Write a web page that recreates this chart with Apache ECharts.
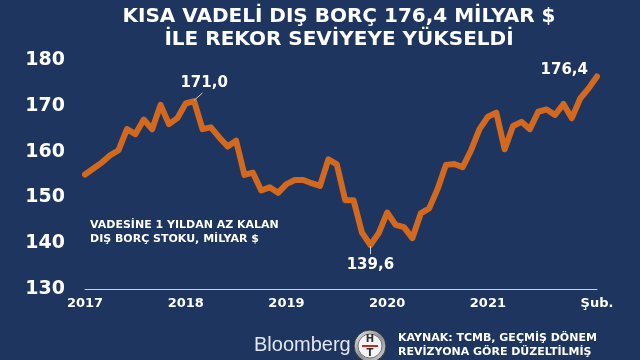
<!DOCTYPE html>
<html><head><meta charset="utf-8">
<script src="https://cdn.jsdelivr.net/npm/echarts@6/dist/echarts.min.js"></script>
<style>html,body{margin:0;padding:0;background:#1e355f}#c{width:640px;height:360px}</style>
</head><body><div id="c"></div>
<script>
// Monthly, Jan 2017 – Feb 2022 (billion $)
const months = [];
for (let y = 2017; y <= 2022; y++) for (let m = 1; m <= 12; m++) { if (y === 2022 && m > 2) break; months.push(y + '-' + (m < 10 ? '0' + m : m)); }
const debtValues = [
  155.0, 156.3, 157.6, 159.2, 160.3, 164.9, 163.8, 167.0, 164.9, 170.2, 166.0, 167.3,
  170.5, 171.0, 164.9, 165.3, 163.1, 161.1, 162.4, 154.9, 155.4, 151.5, 152.2, 151.0,
  152.9, 153.8, 153.8, 153.1, 152.5, 158.3, 157.2, 149.4, 149.4, 142.3, 139.6, 142.2,
  146.7, 144.0, 143.5, 141.1, 146.5, 147.6, 151.8, 157.1, 157.3, 156.6, 160.3, 164.9,
  167.6, 168.5, 160.5, 165.6, 166.5, 164.9, 168.7, 169.2, 168.0, 170.4, 167.3, 171.6,
  173.8, 176.4
];
const xTickLabels = {0:'2017', 12:'2018', 24:'2019', 36:'2020', 48:'2021', 61:'Şub.'};
const yTicks = [130, 140, 150, 160, 170, 180];
const labelled = {13:'171,0', 34:'139,6', 61:'176,4'};
const titleText = 'KISA VADELİ DIŞ BORÇ 176,4 MİLYAR $\nİLE REKOR SEVİYEYE YÜKSELDİ';

const F = '"DejaVu Sans", Verdana, sans-serif';
const ORANGE = '#d2691e';
const seriesData = debtValues.map((v, i) => {
  if (!(i in labelled)) return v;
  let lab = {show:true, formatter: labelled[i], color:'#fff', fontFamily:F, fontWeight:'bold', fontSize:15};
  if (i === 13) Object.assign(lab, {position:'top', distance:10, offset:[10,0]});
  if (i === 34) Object.assign(lab, {position:'bottom', distance:12});
  if (i === 61) Object.assign(lab, {position:'left', distance:8, offset:[0,-6]});
  return {value: v, label: lab};
});

const chart = echarts.init(document.getElementById('c'));
chart.setOption({
  backgroundColor: '#1e355f',
  animation: false,
  grid: {left: 85, right: 43, top: 60, bottom: 71, containLabel: false},
  xAxis: {
    type: 'category', data: months, boundaryGap: false,
    axisLine: {show:true, lineStyle:{color:'#c9d2e3', width:1}},
    axisTick: {show:false},
    axisLabel: {
      interval: (i) => i in xTickLabels,
      formatter: (v, i) => xTickLabels[i] || '',
      color:'#fff', fontFamily:F, fontWeight:'bold', fontSize:13, margin:8
    },
    splitLine: {show:false}
  },
  yAxis: {
    type: 'value', min: yTicks[0], max: yTicks[yTicks.length-1], interval: 10,
    axisLine: {show:false}, axisTick: {show:false}, splitLine: {show:false},
    axisLabel: {color:'#fff', fontFamily:F, fontWeight:'bold', fontSize:19, margin:20}
  },
  series: [{
    type: 'line', data: seriesData, symbol: 'circle', symbolSize: 2, showSymbol: true,
    itemStyle: {color: ORANGE},
    lineStyle: {color: ORANGE, width:6, cap:'round', join:'round'},
    markLine: {
      silent: true, symbol: 'none', label: {show:false},
      lineStyle: {color:'#c9d2e3', width:1, type:'solid'},
      data: [
        [{coord:[13, 171.2]}, {coord:[14, 172.8]}],
        [{coord:[34, 139.3]}, {coord:[34, 137.6]}]
      ]
    }
  }],
  graphic: [
    {type:'text', x:339, y:5, style:{text:titleText, fill:'#fff', font:'bold 20px ' + F, lineHeight:23, align:'center', verticalAlign:'top'}},
    {type:'text', left:90, top:218, style:{text:'VADESİNE 1 YILDAN AZ KALAN\nDIŞ BORÇ STOKU, MİLYAR $', fill:'#fff', font:'bold 11px ' + F, lineHeight:14}},
    {type:'text', left:254, top:335, style:{text:'Bloomberg', fill:'#e2e6ee', font:'20px "Liberation Sans", Arial, sans-serif'}},
    {type:'circle', shape:{cx:370, cy:346, r:16}, style:{fill:{type:'linear', x:0, y:0, x2:1, y2:1, colorStops:[{offset:0, color:'#f2f2f2'},{offset:0.5,color:'#8a8f98'},{offset:1,color:'#d8d8d8'}]}, stroke:'#333', lineWidth:1}},
    {type:'circle', shape:{cx:370, cy:346, r:12}, style:{fill:'#f4f4f4', stroke:'#777', lineWidth:1}},
    {type:'text', x:370, y:339, style:{text:'H', fill:'#333', font:'bold 10px ' + F, align:'center', verticalAlign:'middle'}},
    {type:'line', shape:{x1:362, y1:346, x2:378, y2:346}, style:{stroke:'#c62828', lineWidth:2}},
    {type:'text', x:370, y:353, style:{text:'T', fill:'#333', font:'bold 10px ' + F, align:'center', verticalAlign:'middle'}},
    {type:'text', left:398, top:331, style:{text:'KAYNAK: TCMB, GEÇMİŞ DÖNEM\nREVİZYONA GÖRE DÜZELTİLMİŞ', fill:'#fff', font:'bold 11px ' + F, lineHeight:14}}
  ]
});
</script></body></html>
